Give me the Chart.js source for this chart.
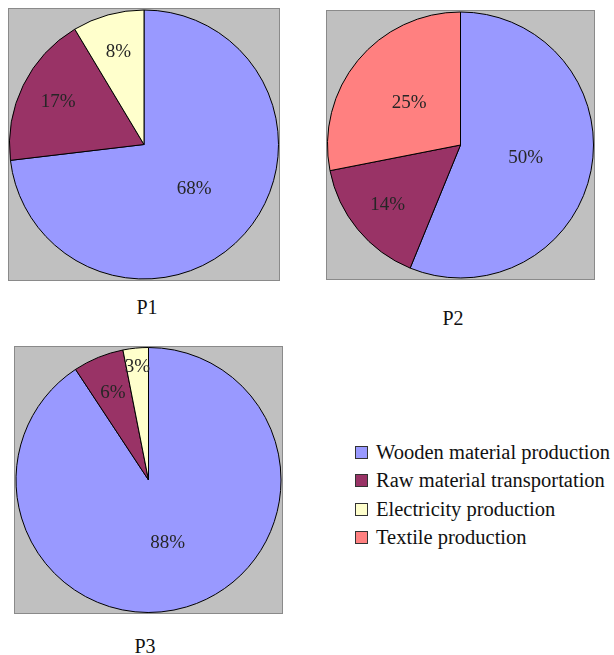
<!DOCTYPE html>
<html>
<head>
<meta charset="utf-8">
<script src="https://cdn.jsdelivr.net/npm/chart.js@4/dist/chart.umd.min.js"></script>
<style>
  body { margin: 0; background: #fff; font-family: "Liberation Serif", "DejaVu Serif", serif; }
  #page { position: relative; width: 614px; height: 655px; overflow: hidden; }
  .box { position: absolute; background: #c0c0c0; border: 1px solid #8a8a8a; }
  .box canvas { display: block; }
  .ptitle { position: absolute; font-size: 20px; color: #111; transform: translate(-50%, -50%); white-space: nowrap; }
  #legend { position: absolute; left: 355px; top: 438px; font-size: 20.5px; color: #111; }
  .item { height: 28.5px; display: flex; align-items: center; white-space: nowrap; }
  .sw { width: 11px; height: 11px; border: 1px solid #333; margin-right: 8px; }
</style>
</head>
<body>
<div id="page">
  <div class="box" style="left:8px; top:8px;"><canvas id="pie1" width="270" height="271"></canvas></div>
  <div class="box" style="left:326px; top:10px;"><canvas id="pie2" width="267" height="268"></canvas></div>
  <div class="box" style="left:14px; top:346px;"><canvas id="pie3" width="267" height="266"></canvas></div>
  <div class="ptitle" style="left:147px; top:307px;">P1</div>
  <div class="ptitle" style="left:453px; top:318px;">P2</div>
  <div class="ptitle" style="left:145px; top:646px;">P3</div>
  <div id="legend"></div>
</div>
<script>
// categories and values (percent labels as printed on the slices)
var categories = ['Wooden material production', 'Raw material transportation', 'Electricity production', 'Textile production'];
var colors = ['#9999ff', '#993366', '#ffffcc', '#ff8080'];
var p1Values = [68, 17, 8, 0];
var p2Values = [50, 14, 0, 25];
var p3Values = [88, 6, 3, 0];

// legend
var legend = document.getElementById('legend');
categories.forEach(function (c, i) {
    var row = document.createElement('div');
    row.className = 'item';
    row.innerHTML = '<span class="sw" style="background:' + colors[i] + '"></span>' + c;
    legend.appendChild(row);
});

// draw the percent text inside each slice
var sliceLabels = {
    id: 'sliceLabels',
    afterDatasetsDraw: function (chart) {
        var ctx = chart.ctx;
        var meta = chart.getDatasetMeta(0);
        var values = chart.data.datasets[0].data;
        var total = values.reduce(function (a, b) { return a + b; }, 0);
        ctx.save();
        ctx.font = '19px "Liberation Serif", serif';
        ctx.fillStyle = '#262626';
        ctx.textAlign = 'center';
        ctx.textBaseline = 'middle';
        meta.data.forEach(function (arc, i) {
            var p = arc.getProps(['x', 'y', 'startAngle', 'endAngle', 'outerRadius'], true);
            var share = values[i] / total;
            var frac = share < 0.05 ? 0.86 : (share < 0.25 ? 0.71 : 0.5);
            var mid = (p.startAngle + p.endAngle) / 2;
            ctx.fillText(values[i] + '%', p.x + Math.cos(mid) * p.outerRadius * frac, p.y + Math.sin(mid) * p.outerRadius * frac);
        });
        ctx.restore();
    }
};

function makePie(id, values) {
    // leave out categories that are not in this chart
    var labels = [], data = [], bg = [];
    values.forEach(function (v, i) {
        if (v > 0) { labels.push(categories[i]); data.push(v); bg.push(colors[i]); }
    });
    return new Chart(document.getElementById(id).getContext('2d'), {
        type: 'pie',
        data: {
            labels: labels,
            datasets: [{ data: data, backgroundColor: bg, borderColor: '#000', borderWidth: 1 }]
        },
        options: {
            responsive: false,
            animation: false,
            devicePixelRatio: 1,
            layout: { padding: 0 },
            plugins: { legend: { display: false }, tooltip: { enabled: false } }
        },
        plugins: [sliceLabels]
    });
}

makePie('pie1', p1Values);
makePie('pie2', p2Values);
makePie('pie3', p3Values);
</script>
</body>
</html>
